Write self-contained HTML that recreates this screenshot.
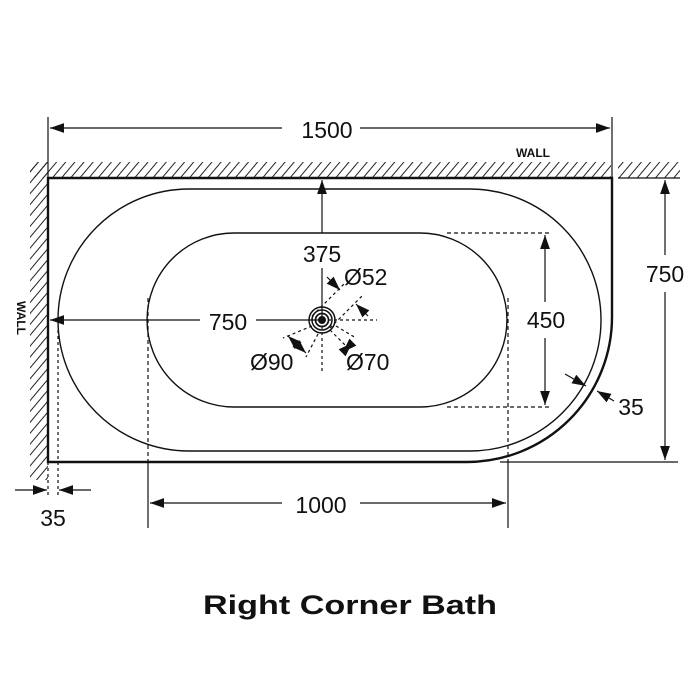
<!DOCTYPE html>
<html><head><meta charset="utf-8"><style>
html,body{margin:0;padding:0;background:#fff;width:700px;height:700px;overflow:hidden}
svg{display:block}
text{font-family:"Liberation Sans",sans-serif;fill:#111}
</style></head><body>
<svg width="700" height="700" viewBox="0 0 700 700" xmlns="http://www.w3.org/2000/svg">
<defs>
<pattern id="h" patternUnits="userSpaceOnUse" width="7" height="7" patternTransform="rotate(40)">
<line x1="0" y1="0" x2="0" y2="7" stroke="#222" stroke-width="2"/>
</pattern>
<marker id="a" viewBox="0 0 10 10" refX="10" refY="5" markerWidth="14" markerHeight="14" markerUnits="userSpaceOnUse" orient="auto-start-reverse">
<path d="M0,1.5 L10,5 L0,8.5 Z" fill="#111"/>
</marker>
</defs>
<!-- walls -->
<rect x="30" y="162" width="581" height="16" fill="url(#h)"/>
<rect x="618" y="162" width="62" height="16" fill="url(#h)"/>
<rect x="30" y="162" width="18" height="318" fill="url(#h)"/>
<line x1="618" y1="178" x2="680" y2="178" stroke="#111" stroke-width="1.2"/>
<!-- bath outline -->
<path d="M48,178 L612,178 L612,317 A145,145 0 0 1 467,462 L48,462 Z" fill="#fff" stroke="#111" stroke-width="2.4"/>
<!-- rim -->
<path d="M189,189 L470,189 A131,131 0 0 1 470,451 L189,451 A131,131 0 0 1 189,189 Z" fill="none" stroke="#111" stroke-width="1.4"/>
<!-- basin -->
<path d="M234,233 L420,233 A87,87 0 0 1 420,407 L234,407 A87,87 0 0 1 234,233 Z" fill="none" stroke="#111" stroke-width="1.4"/>
<g stroke="#111" stroke-width="1.2" fill="none">
<line x1="48" y1="117" x2="48" y2="178"/>
<line x1="612" y1="117" x2="612" y2="178"/>
<line x1="50" y1="128" x2="282" y2="128" marker-start="url(#a)"/>
<line x1="360" y1="128" x2="610" y2="128" marker-end="url(#a)"/>
<line x1="500" y1="462" x2="678" y2="462"/>
<line x1="665" y1="180" x2="665" y2="255" marker-start="url(#a)"/>
<line x1="665" y1="292" x2="665" y2="460" marker-end="url(#a)"/>
<line x1="148" y1="298" x2="148" y2="462" stroke-dasharray="4,3"/>
<line x1="148" y1="462" x2="148" y2="528"/>
<line x1="508" y1="298" x2="508" y2="462" stroke-dasharray="4,3"/>
<line x1="508" y1="462" x2="508" y2="528"/>
<line x1="150" y1="503" x2="282" y2="503" marker-start="url(#a)"/>
<line x1="360" y1="503" x2="506" y2="503" marker-end="url(#a)"/>
<line x1="48" y1="462" x2="48" y2="495" stroke-dasharray="3,3"/>
<line x1="58" y1="330" x2="58" y2="495" stroke-dasharray="3,3"/>
<line x1="15" y1="490" x2="47" y2="490" marker-end="url(#a)"/>
<line x1="91" y1="490" x2="59" y2="490" marker-end="url(#a)"/>
<line x1="322" y1="233" x2="322" y2="180" marker-end="url(#a)"/>
<line x1="322" y1="268" x2="322" y2="320"/>
<line x1="322" y1="320" x2="322" y2="374" stroke-dasharray="3,3"/>
<line x1="200" y1="320" x2="50" y2="320" marker-end="url(#a)"/>
<line x1="256" y1="320" x2="322" y2="320"/>
<line x1="322" y1="320" x2="377" y2="320" stroke-dasharray="3,3"/>
<line x1="447" y1="233" x2="552" y2="233" stroke-dasharray="4,3"/>
<line x1="447" y1="407" x2="552" y2="407" stroke-dasharray="4,3"/>
<line x1="545" y1="235" x2="545" y2="302" marker-start="url(#a)"/>
<line x1="545" y1="338" x2="545" y2="405" marker-end="url(#a)"/>
<line x1="565" y1="374" x2="586" y2="386" marker-end="url(#a)"/>
<line x1="614" y1="401" x2="597" y2="391" marker-end="url(#a)"/>
<line x1="312" y1="316" x2="345" y2="283" stroke-dasharray="3,3"/>
<line x1="330" y1="328" x2="364" y2="294" stroke-dasharray="3,3"/>
<line x1="327" y1="277" x2="340" y2="290" marker-end="url(#a)"/>
<line x1="368" y1="316" x2="356" y2="304" marker-end="url(#a)"/>
<line x1="312" y1="326" x2="283" y2="338" stroke-dasharray="3,3"/>
<line x1="318" y1="334" x2="306" y2="357" stroke-dasharray="3,3"/>
<line x1="288" y1="336" x2="306" y2="353" marker-start="url(#a)" marker-end="url(#a)"/>
<line x1="330" y1="330" x2="346" y2="346" stroke-dasharray="3,3"/>
<line x1="336" y1="326" x2="356" y2="338" stroke-dasharray="3,3"/>
<line x1="343" y1="352" x2="352" y2="343" marker-start="url(#a)" marker-end="url(#a)"/>
<circle cx="322" cy="320" r="13" stroke-width="1.5"/>
<circle cx="322" cy="320" r="10" stroke-width="1.5"/>
<circle cx="322" cy="320" r="6.5" stroke-width="1.7"/>
</g>
<circle cx="322" cy="320" r="4" fill="#111"/>
<g font-size="23">
<text x="327" y="138" text-anchor="middle">1500</text>
<text x="665" y="282" text-anchor="middle">750</text>
<text x="321" y="513" text-anchor="middle">1000</text>
<text x="53" y="526" text-anchor="middle">35</text>
<text x="322" y="262" text-anchor="middle">375</text>
<text x="228" y="330" text-anchor="middle">750</text>
<text x="546" y="328" text-anchor="middle">450</text>
<text x="631" y="415" text-anchor="middle">35</text>
<text x="344" y="285">Ø52</text>
<text x="250" y="370">Ø90</text>
<text x="346" y="370">Ø70</text>
</g>
<text x="533" y="157" font-size="12" font-weight="bold" text-anchor="middle">WALL</text>
<text x="0" y="0" font-size="12" font-weight="bold" text-anchor="middle" transform="translate(17,318) rotate(90)">WALL</text>
<text x="350" y="614" font-size="27" font-weight="bold" text-anchor="middle" textLength="294" lengthAdjust="spacingAndGlyphs">Right Corner Bath</text>
</svg>
</body></html>
